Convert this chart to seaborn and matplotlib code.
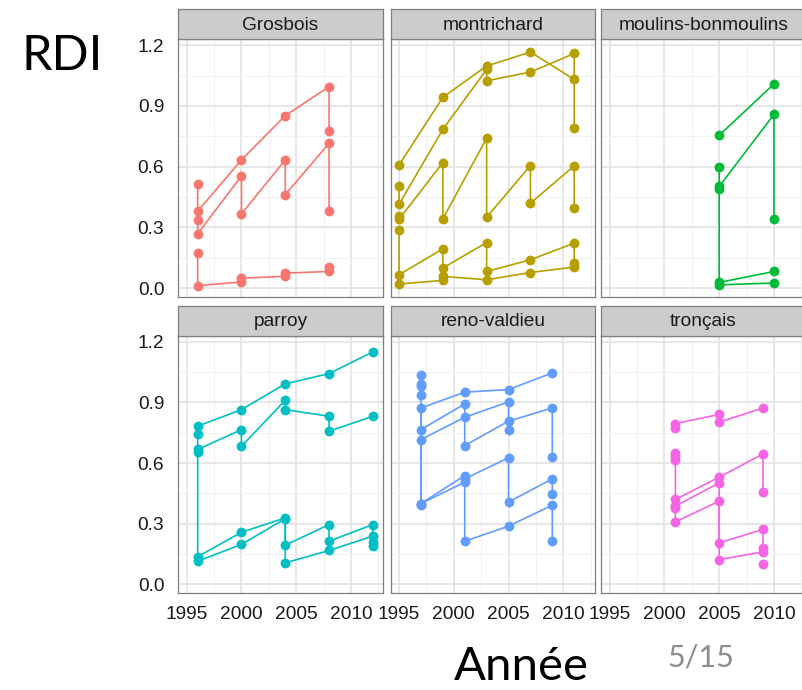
import matplotlib
matplotlib.use("Agg")
import matplotlib.pyplot as plt
from matplotlib.ticker import FormatStrFormatter
import pandas as pd
import seaborn as sns

# ---- data: RDI per stand over the inventory years, one block per forest ----
sites = ["Grosbois", "montrichard", "moulins-bonmoulins",
         "parroy", "reno-valdieu", "tronçais"]
site_colors = ["#F8766D", "#B79F00", "#00BA38", "#00BFC4", "#619CFF", "#F564E3"]

grosbois_stand = [1, 1, 1, 1, 1, 1,
                  2, 2, 2, 2, 2, 2, 2, 2,
                  3, 3, 3, 3, 3, 3, 3, 3]
grosbois_year = [1996, 1996, 2000, 2004, 2008, 2008,
                 1996, 1996, 2000, 2000, 2004, 2004, 2008, 2008,
                 1996, 1996, 2000, 2000, 2004, 2004, 2008, 2008]
grosbois_rdi = [0.515, 0.380, 0.633, 0.852, 0.995, 0.778,
                0.335, 0.268, 0.554, 0.367, 0.633, 0.462, 0.715, 0.380,
                0.171, 0.012, 0.030, 0.049, 0.058, 0.074, 0.082, 0.104]

montrichard_stand = [1, 1, 1, 1, 1,
                     2, 2, 2, 2, 2, 2, 2, 2,
                     3, 3, 3, 3, 3, 3, 3, 3, 3, 3,
                     4, 4, 4, 4, 4, 4, 4, 4, 4,
                     5, 5, 5, 5, 5, 5]
montrichard_year = [1995, 1999, 2003, 2007, 2011,
                    1995, 1995, 1999, 2003, 2003, 2007, 2011, 2011,
                    1995, 1995, 1999, 1999, 2003, 2003, 2007, 2007, 2011, 2011,
                    1995, 1995, 1999, 1999, 2003, 2003, 2007, 2011, 2011,
                    1995, 1999, 1999, 2003, 2007, 2011]
montrichard_rdi = [0.608, 0.942, 1.097, 1.166, 1.031,
                   0.502, 0.414, 0.784, 1.080, 1.024, 1.067, 1.159, 0.793,
                   0.357, 0.340, 0.620, 0.342, 0.740, 0.350, 0.605, 0.419, 0.604, 0.395,
                   0.285, 0.066, 0.194, 0.099, 0.225, 0.082, 0.140, 0.222, 0.123,
                   0.020, 0.038, 0.058, 0.041, 0.077, 0.104]

moulins_stand = [1, 1, 2, 2, 2, 2, 3, 3, 3, 4, 4]
moulins_year = [2005, 2010, 2005, 2005, 2010, 2010, 2005, 2005, 2010, 2005, 2010]
moulins_rdi = [0.755, 1.008, 0.597, 0.502, 0.858, 0.342, 0.490, 0.028, 0.082, 0.016, 0.025]

parroy_stand = [1, 1, 1, 1, 1,
                2, 2, 2, 2, 2, 2, 2, 2, 2,
                3, 3, 3, 3, 3, 3, 3, 3, 3,
                4, 4, 4, 4, 4, 4, 4]
parroy_year = [1996, 2000, 2004, 2008, 2012,
               1996, 1996, 2000, 2000, 2004, 2004, 2008, 2008, 2012,
               1996, 1996, 2000, 2004, 2004, 2008, 2008, 2012, 2012,
               1996, 2000, 2004, 2004, 2008, 2012, 2012]
parroy_rdi = [0.782, 0.864, 0.991, 1.042, 1.149,
              0.744, 0.667, 0.765, 0.683, 0.910, 0.864, 0.831, 0.757, 0.831,
              0.653, 0.137, 0.258, 0.329, 0.194, 0.296, 0.214, 0.296, 0.189,
              0.115, 0.198, 0.325, 0.107, 0.168, 0.239, 0.209]

reno_stand = [1, 1, 1, 1, 1, 1, 1, 1, 1,
              2, 2, 2, 2, 2, 2,
              3, 3, 3, 3,
              4, 4, 4, 4, 4, 4, 4,
              5, 5, 5, 5, 5, 5]
reno_year = [1997, 1997, 1997, 1997, 1997, 1997, 2001, 2005, 2009,
             1997, 2001, 2001, 2005, 2009, 2009,
             1997, 2001, 2005, 2005,
             1997, 2001, 2001, 2005, 2005, 2009, 2009,
             1997, 2001, 2001, 2005, 2009, 2009]
reno_rdi = [1.034, 0.991, 0.979, 0.938, 0.395, 0.872, 0.950, 0.963, 1.045,
            0.765, 0.892, 0.686, 0.807, 0.872, 0.630,
            0.716, 0.826, 0.902, 0.765,
            0.400, 0.538, 0.522, 0.626, 0.407, 0.522, 0.449,
            0.400, 0.505, 0.214, 0.288, 0.392, 0.214]

troncais_stand = [1, 1, 1, 1, 1,
                  2, 2, 2, 2, 2, 2, 2,
                  3, 3, 3, 3, 3,
                  4, 4, 4, 4, 4,
                  5]
troncais_year = [2001, 2001, 2005, 2005, 2009,
                 2001, 2001, 2001, 2001, 2005, 2009, 2009,
                 2001, 2005, 2005, 2009, 2009,
                 2001, 2001, 2005, 2005, 2009,
                 2009]
troncais_rdi = [0.774, 0.795, 0.840, 0.802, 0.872,
                0.650, 0.634, 0.617, 0.420, 0.530, 0.645, 0.456,
                0.387, 0.502, 0.206, 0.272, 0.181,
                0.379, 0.309, 0.412, 0.123, 0.161,
                0.099]

x_ticks = [1995, 2000, 2005, 2010]
y_ticks = [0.0, 0.3, 0.6, 0.9, 1.2]


def site_frame(name, stand, year, rdi):
    return pd.DataFrame({"site": name, "stand": stand, "year": year, "rdi": rdi})


df = pd.concat([
    site_frame("Grosbois", grosbois_stand, grosbois_year, grosbois_rdi),
    site_frame("montrichard", montrichard_stand, montrichard_year, montrichard_rdi),
    site_frame("moulins-bonmoulins", moulins_stand, moulins_year, moulins_rdi),
    site_frame("parroy", parroy_stand, parroy_year, parroy_rdi),
    site_frame("reno-valdieu", reno_stand, reno_year, reno_rdi),
    site_frame("tronçais", troncais_stand, troncais_year, troncais_rdi),
], ignore_index=True)

# ---- styling ----
sns.set_theme(style="white")
plt.rcParams["font.family"] = ["Liberation Sans", "DejaVu Sans"]

W, H = 803, 690
fig = plt.figure(figsize=(W / 100, H / 100), dpi=100)
fig.patch.set_facecolor("white")

col_left = [178.3, 390.6, 601.3]
panel_w = 204.4
row_top = [39.3, 335.7]
panel_h = 257.7
strip_h = 30.0
border = "#7F7F7F"
fs = 13.8

for i, site in enumerate(sites):
    r, c = divmod(i, 3)
    left = col_left[c] / W
    bottom = 1 - (row_top[r] + panel_h) / H
    ax = fig.add_axes([left, bottom, panel_w / W, panel_h / H])
    sub = df[df["site"] == site]

    sns.lineplot(data=sub, x="year", y="rdi", units="stand", estimator=None,
                 sort=False, color=site_colors[i], lw=1.2, ax=ax, legend=False)
    sns.scatterplot(data=sub, x="year", y="rdi", color=site_colors[i], s=50,
                    linewidth=0, ax=ax, legend=False, zorder=3)

    ax.set_xlim(1994.23, 2012.9)
    ax.set_ylim(-0.044, 1.229)
    ax.set_xticks(x_ticks)
    ax.set_xticks([1997.5, 2002.5, 2007.5, 2012.5], minor=True)
    ax.set_yticks(y_ticks)
    ax.set_yticks([0.15, 0.45, 0.75, 1.05], minor=True)
    ax.yaxis.set_major_formatter(FormatStrFormatter("%.1f"))
    ax.set_axisbelow(True)
    ax.grid(which="major", color="#E3E3E3", lw=1.2)
    ax.grid(which="minor", color="#F1F1F1", lw=0.8)
    ax.set_xlabel("")
    ax.set_ylabel("")
    ax.set_facecolor("white")
    for sp in ax.spines.values():
        sp.set_color(border)
        sp.set_linewidth(0.9)

    ax.tick_params(which="minor", length=0)
    ax.tick_params(which="major", direction="out", length=6.5, width=0.9,
                   color="#333333", labelsize=fs, labelcolor="#1A1A1A")
    ax.tick_params(axis="y", pad=3.6)
    ax.tick_params(axis="x", pad=2.5)
    if c != 0:
        ax.tick_params(axis="y", left=False, labelleft=False)
    if r != 1:
        ax.tick_params(axis="x", bottom=False, labelbottom=False)

    # facet strip
    sax = fig.add_axes([left, 1 - row_top[r] / H, panel_w / W, strip_h / H])
    sax.set_facecolor("#CCCCCC")
    sax.set_xticks([])
    sax.set_yticks([])
    for sp in sax.spines.values():
        sp.set_color(border)
        sp.set_linewidth(0.9)
    sax.text(0.5, 0.47, site, ha="center", va="center", fontsize=fs,
             color="#1A1A1A", transform=sax.transAxes)

# slide annotations
fig.text(22 / W, 1 - 70 / H, "RDI", ha="left", va="baseline",
         fontsize=35, family=["Lato", "DejaVu Sans"], color="black")
fig.text(521 / W, 1 - 680 / H, "Année", ha="center", va="baseline",
         fontsize=34, family=["Lato", "DejaVu Sans"], color="black")
fig.text(701 / W, 1 - 667 / H, "5/15", ha="center", va="baseline",
         fontsize=22, family=["Lato", "DejaVu Sans"], color="#8C8C8C")

fig.savefig("out.png", dpi=100, facecolor="white")
